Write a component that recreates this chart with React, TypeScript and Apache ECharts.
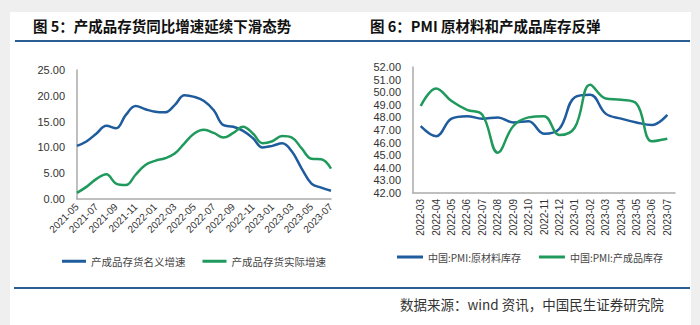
import React, { useEffect, useRef } from "react";
import * as echarts from "echarts";

const monthsA = [
  "2021-05","2021-06","2021-07","2021-08","2021-09","2021-10","2021-11","2021-12",
  "2022-01","2022-02","2022-03","2022-04","2022-05","2022-06","2022-07","2022-08",
  "2022-09","2022-10","2022-11","2022-12","2023-01","2023-02","2023-03","2023-04",
  "2023-05","2023-06","2023-07",
];
const nominal = [10.3,11.2,12.7,14.2,13.7,16.3,18.0,17.4,16.9,16.8,18.2,20.1,19.8,19.0,17.2,14.3,14.0,13.2,11.8,10.0,10.3,10.8,9.2,5.9,3.0,2.2,1.6];
const realG = [1.2,2.4,3.9,4.8,3.0,2.7,4.7,6.6,7.4,7.9,8.8,10.8,12.7,13.4,12.8,11.9,12.8,14.0,12.7,10.8,11.2,12.2,11.9,9.8,7.8,7.7,5.9];

const monthsB = [
  "2022-03","2022-04","2022-05","2022-06","2022-07","2022-08","2022-09","2022-10",
  "2022-11","2022-12","2023-01","2023-02","2023-03","2023-04","2023-05","2023-06","2023-07",
];
const rawInv = [47.3,46.5,47.9,48.1,47.9,48.0,47.6,47.7,46.7,47.1,49.6,49.8,48.3,47.9,47.6,47.4,48.2];
const finInv = [48.9,50.3,49.3,48.6,48.2,45.2,47.3,48.0,48.1,46.6,47.2,50.6,49.5,49.4,49.1,46.1,46.3];

const BLUE = "#1f5c9e";
const GREEN = "#1f9a5c";
const LINE = "#2b5f93";
const FONT = "'Noto Sans CJK SC', 'Noto Sans', sans-serif";

export default function App() {
  const ref = useRef<HTMLDivElement>(null);
  useEffect(() => {
    const chart = echarts.init(ref.current!, null, { renderer: "svg" });
    const axisLabel = { color: "#333", fontSize: 11, fontFamily: "'Liberation Sans', sans-serif" };
    chart.setOption({
      animation: false,
      backgroundColor: "#efefef",
      graphic: [
        { type: "rect", shape: { x: 10, y: 12, width: 681, height: 313 }, style: { fill: "#ffffff" }, z: -10 },
        { type: "rect", shape: { x: 15, y: 40, width: 675, height: 2 }, style: { fill: LINE } },
        { type: "rect", shape: { x: 14, y: 287, width: 676, height: 2 }, style: { fill: LINE } },
        { type: "text", x: 33, y: 25, style: { text: "图 5：产成品存货同比增速延续下滑态势", fill: "#111", font: "bold 14.5px " + FONT, textVerticalAlign: "middle" } },
        { type: "text", x: 370, y: 25, style: { text: "图 6：PMI 原材料和产成品库存反弹", fill: "#111", font: "bold 14.5px " + FONT, textVerticalAlign: "middle" } },
        { type: "text", x: 400, y: 304, style: { text: "数据来源：wind 资讯，中国民生证券研究院", fill: "#333", font: "13.5px " + FONT, textVerticalAlign: "middle" } },
      ],
      grid: [
        { left: 77, width: 254, top: 70, height: 129 },
        { left: 413, width: 262, top: 67, height: 126 },
      ],
      legend: [
        {
          left: 57, top: 251, itemWidth: 24, itemHeight: 3, itemGap: 17, icon: "rect",
          textStyle: { color: "#444", fontSize: 10.5, fontFamily: FONT },
          data: ["产成品存货名义增速", "产成品存货实际增速"],
        },
        {
          left: 392, top: 247, itemWidth: 26, itemHeight: 3, itemGap: 18, icon: "rect",
          textStyle: { color: "#444", fontSize: 10, fontFamily: FONT },
          data: ["中国:PMI:原材料库存", "中国:PMI:产成品库存"],
        },
      ],
      xAxis: [
        {
          type: "category", gridIndex: 0, data: monthsA, boundaryGap: false,
          axisLine: { lineStyle: { color: "#aaa", width: 1.5 } }, axisTick: { show: false },
          axisLabel: { ...axisLabel, fontSize: 10, rotate: 45, interval: 1, margin: 6 },
        },
        {
          type: "category", gridIndex: 1, data: monthsB, boundaryGap: true,
          axisLine: { lineStyle: { color: "#aaa", width: 1.5 } }, axisTick: { show: false },
          axisLabel: { ...axisLabel, fontSize: 10, rotate: 90, interval: 0, margin: 6 },
        },
      ],
      yAxis: [
        {
          type: "value", gridIndex: 0, min: 0, max: 25, interval: 5,
          axisLine: { show: true, lineStyle: { color: "#aaa", width: 1.5 } }, axisTick: { show: false },
          splitLine: { show: false },
          axisLabel: { ...axisLabel, margin: 12, formatter: (v: number) => v.toFixed(2) },
        },
        {
          type: "value", gridIndex: 1, min: 42, max: 52, interval: 1,
          axisLine: { show: true, lineStyle: { color: "#aaa", width: 1.5 } }, axisTick: { show: false },
          splitLine: { show: false },
          axisLabel: { ...axisLabel, margin: 12, formatter: (v: number) => v.toFixed(2) },
        },
      ],
      series: [
        { name: "产成品存货名义增速", type: "line", xAxisIndex: 0, yAxisIndex: 0, data: nominal, smooth: 0.4, showSymbol: false, color: BLUE, lineStyle: { width: 2.5, color: BLUE } },
        { name: "产成品存货实际增速", type: "line", xAxisIndex: 0, yAxisIndex: 0, data: realG, smooth: 0.4, showSymbol: false, color: GREEN, lineStyle: { width: 2.5, color: GREEN } },
        { name: "中国:PMI:原材料库存", type: "line", xAxisIndex: 1, yAxisIndex: 1, data: rawInv, smooth: 0.4, showSymbol: false, color: BLUE, lineStyle: { width: 2.5, color: BLUE } },
        { name: "中国:PMI:产成品库存", type: "line", xAxisIndex: 1, yAxisIndex: 1, data: finInv, smooth: 0.4, showSymbol: false, color: GREEN, lineStyle: { width: 2.5, color: GREEN } },
      ],
    });
    return () => chart.dispose();
  }, []);
  return <div ref={ref} style={{ position: "fixed", left: 0, top: 0, width: 700, height: 325 }} />;
}
